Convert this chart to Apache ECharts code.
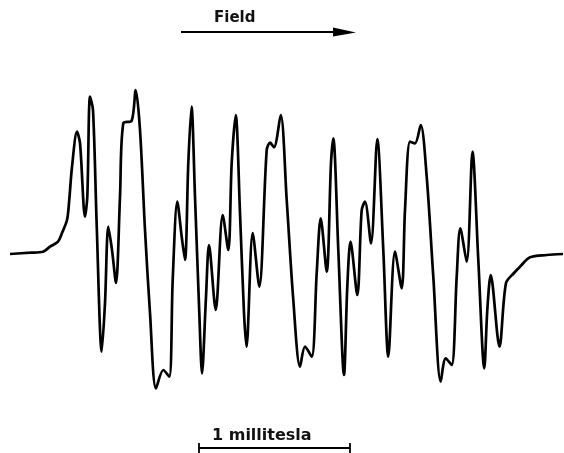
<!DOCTYPE html>
<html>
<head>
<meta charset="utf-8">
<script src="https://cdn.jsdelivr.net/npm/echarts@6/dist/echarts.min.js"></script>
<style>
  html, body { margin: 0; padding: 0; background: #fff; }
  #chart { width: 564px; height: 453px; }
</style>
</head>
<body>
<div id="chart"></div>
<script>
// spectrum trace (field position, signal level in picture units)
var fieldPos = [10, 30, 43, 50, 58, 62, 67, 69, 72, 77, 80, 85, 87.3, 90, 93, 96.7, 101.7, 105, 108.3, 112, 116, 120, 123.3, 131.7, 135.7,
  140, 145, 150, 156, 163.3, 169.3, 172.7, 177.3, 181.7, 185, 188.3, 191.5,
  195, 199.3, 202, 206, 209, 215.7, 222.7, 228.3, 231.7, 235.7, 240, 244, 246.5, 252.7, 259.3, 266.7, 270, 274, 280.7,
  286.7, 293.3, 300, 305, 311.7, 316.7, 320.7, 326.7, 331, 333.3,
  338.3, 344, 347.3, 350.5, 357.3, 361.7, 365, 371, 377.3, 383.3, 388.3, 395, 401.7, 405, 410, 415, 420.7,
  426.7, 433.3, 440.7, 445.7, 451.7, 456.7, 460.3, 466.7, 472.5, 478.3, 484.3, 487.3, 490.7, 499.5, 506, 514, 520, 530, 546.7, 563];
var signal = [254, 252.7, 251.7, 246.7, 241.7, 233, 220, 203, 167, 131.7, 143, 216.7, 196.7, 96.7, 110, 225, 351.7, 303, 226.7, 250, 283, 196.7, 123.3, 120.7, 90,
  130, 230, 313, 388.3, 370, 376.7, 280, 201.7, 236.7, 260, 163, 106.7,
  196.7, 313, 373.3, 296.7, 245, 310, 215, 250, 163, 115, 213, 313, 346.7, 233, 286.7, 150, 142.7, 147.3, 115,
  200, 300, 366.7, 346.7, 356.7, 273, 218.3, 271.7, 163, 138.3,
  250, 375, 286.7, 241.7, 295, 210, 201.7, 243.3, 139, 250, 356.7, 251.7, 288.3, 210, 141.7, 143.3, 125,
  176.7, 276.7, 381.7, 358.3, 365, 276.7, 228.3, 261.7, 151.7, 260, 368.3, 310, 275, 346.7, 283, 273, 266.7, 257.3, 255, 254];

var trace = fieldPos.map(function (x, i) { return [x, signal[i]]; });

var myChart = echarts.init(document.getElementById('chart'));

var option = {
  animation: false,
  grid: { left: 0, right: 0, top: 0, bottom: 0 },
  xAxis: { type: 'value', min: 0, max: 564, show: false },
  yAxis: { type: 'value', min: 0, max: 453, inverse: true, show: false },
  series: [{
    type: 'line',
    data: trace,
    smooth: 0.3,
    symbol: 'none',
    lineStyle: { color: '#000', width: 2.7 }
  }],
  graphic: [
    // field direction arrow
    { type: 'text', left: 214, top: 11, style: { text: 'Field', font: 'bold 15px "DejaVu Sans"', fill: '#111' } },
    { type: 'line', shape: { x1: 181, y1: 32, x2: 340, y2: 32 }, style: { stroke: '#000', lineWidth: 1.8 } },
    { type: 'polygon', shape: { points: [[333, 27.5], [356, 32.5], [333, 36.5]] }, style: { fill: '#000' } },
    // scale bar
    { type: 'text', left: 212, top: 428, style: { text: '1 millitesla', font: 'bold 16px "DejaVu Sans"', fill: '#111' } },
    { type: 'line', shape: { x1: 199, y1: 448, x2: 350, y2: 448 }, style: { stroke: '#000', lineWidth: 1.8 } },
    { type: 'line', shape: { x1: 199, y1: 443, x2: 199, y2: 453 }, style: { stroke: '#000', lineWidth: 1.8 } },
    { type: 'line', shape: { x1: 350, y1: 443, x2: 350, y2: 453 }, style: { stroke: '#000', lineWidth: 1.8 } }
  ]
};

myChart.setOption(option);
</script>
</body>
</html>
